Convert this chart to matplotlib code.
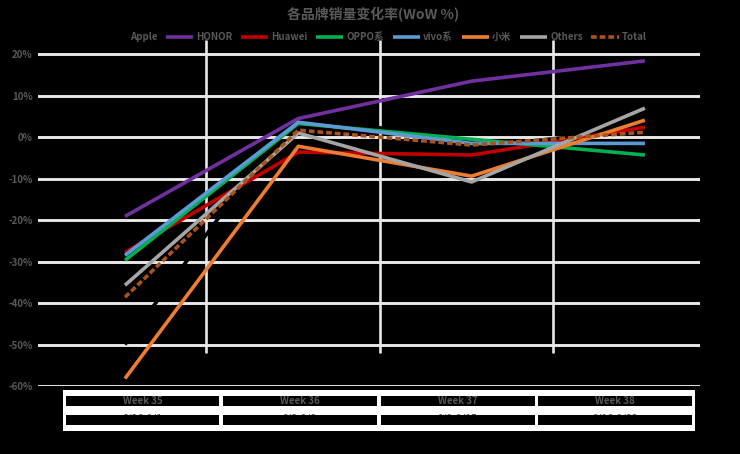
import numpy as np
import matplotlib.pyplot as plt
from matplotlib.patches import Rectangle

plt.rcParams['font.family'] = ['Noto Sans CJK SC', 'DejaVu Sans']
plt.rcParams['font.weight'] = 'bold'

# data (week-over-week change, %)
weeks = ['Week 35', 'Week 36', 'Week 37', 'Week 38']
dates = ['8/26-9/1', '9/2-9/8', '9/9-9/15', '9/16-9/22']
brands = ['Apple', 'HONOR', 'Huawei', 'OPPO系', 'vivo系', '小米', 'Others', 'Total']
apple = [-50.0, 6.5, -2.5, 2.0]
honor = [-19.1, 4.5, 13.5, 18.4]
huawei = [-27.8, -3.6, -4.3, 2.4]
oppo = [-29.7, 3.3, -0.5, -4.3]
vivo = [-28.5, 3.6, -1.5, -1.5]
xiaomi = [-58.2, -2.2, -9.4, 4.1]
others = [-35.7, 1.0, -10.8, 7.0]
total = [-38.6, 1.7, -1.9, 1.2]
yticks = [20, 10, 0, -10, -20, -30, -40, -50, -60]

series = [apple, honor, huawei, oppo, vivo, xiaomi, others, total]
colors = ['#000000', '#7030a0', '#c00000', '#00b050', '#5b9bd5', '#ed7d31', '#a5a5a5', '#a8531a']
text_gray = '#595959'
grid_col = '#e8e8e8'

W, H = 740, 454
fig = plt.figure(figsize=(W / 100, H / 100), dpi=100, facecolor='black')
ax = fig.add_axes([38 / W, 1 - 386 / H, 662 / W, 346 / H])
ax.set_facecolor('black')

x = np.arange(len(weeks))
for t in yticks:
    ax.axhline(t, color=grid_col, lw=2.1, zorder=0)
ax.vlines(x[:-1] + 0.47, -52, 23.4, color=grid_col, lw=1.9, zorder=0)

handles = []
for i, (vals, c) in enumerate(zip(series, colors)):
    h, = ax.plot(x, vals, color=c, lw=2.6, solid_capstyle='butt')
    if brands[i] == 'Total':
        h.set_dashes((1.6, 0.8))
    handles.append(h)

ax.set_xlim(-0.502, 3.318)
ax.set_ylim(-60, 23.43)
ax.set_xticks([])
ax.set_yticks(yticks)
ax.set_yticklabels([f'{t}%' for t in yticks])
ax.tick_params(axis='y', length=0, pad=4, labelsize=7, labelcolor=text_gray)
for s in ax.spines.values():
    s.set_visible(False)

fig.text(373 / W, 1 - 15 / H, '各品牌销量变化率(WoW %)', ha='center', va='center',
         fontsize=10, color=text_gray, weight='bold')
fig.legend(handles, brands, loc='center', bbox_to_anchor=(373 / W, 1 - 37 / H), ncol=8,
           frameon=False, fontsize=7, handlelength=2.8, columnspacing=0.9,
           handletextpad=0.3, labelcolor=text_gray)

# table under the chart
def px_rect(x0, y0, x1, y1, color, z):
    fig.add_artist(Rectangle((x0 / W, 1 - y1 / H), (x1 - x0) / W, (y1 - y0) / H,
                             transform=fig.transFigure, facecolor=color,
                             edgecolor='none', zorder=z))

px_rect(63, 390, 695, 431, 'white', 1)
cells = [(66, 219), (223, 377), (381, 535), (538, 692)]
for (c0, c1), wk, d in zip(cells, weeks, dates):
    px_rect(c0, 396, c1, 406, 'black', 2)
    px_rect(c0, 415, c1, 425, 'black', 4)
    cx = (c0 + c1) / 2 / W
    fig.text(cx, 1 - 401 / H, wk, ha='center', va='center', fontsize=7,
             color=text_gray, weight='bold', zorder=5)
    fig.text(cx, 1 - 418.8 / H, d, ha='center', va='center', fontsize=7,
             color=text_gray, weight='bold', zorder=3)

fig.savefig('out.png', dpi=100, facecolor='black')
